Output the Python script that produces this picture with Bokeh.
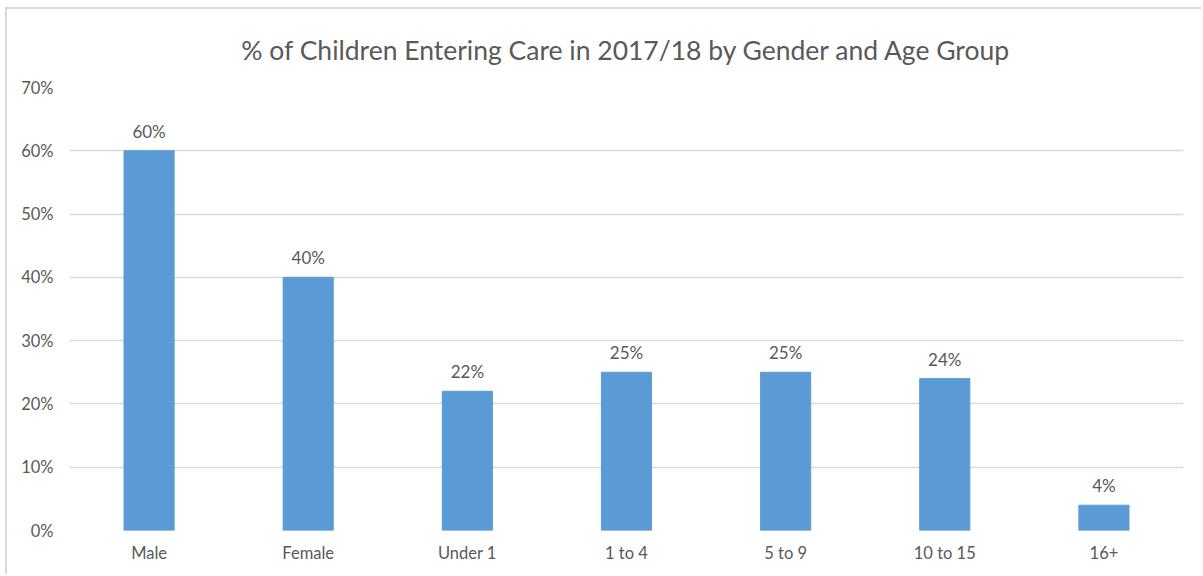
from bokeh.plotting import figure
from bokeh.models import ColumnDataSource, NumeralTickFormatter, FixedTicker, Title
from bokeh.core.properties import value
from bokeh.embed import file_html
from bokeh.resources import INLINE

categories = ["Male", "Female", "Under 1", "1 to 4", "5 to 9", "10 to 15", "16+"]
values = [0.60, 0.40, 0.22, 0.25, 0.25, 0.24, 0.04]
labels = ["60%", "40%", "22%", "25%", "25%", "24%", "4%"]
y_ticks = [0, 0.1, 0.2, 0.3, 0.4, 0.5, 0.6, 0.7]
title_text = "% of Children Entering Care in 2017/18 by Gender and Age Group"

FONT = "Lato"
GREY = "#595959"

src = ColumnDataSource(dict(cat=categories, val=values, lab=labels))

# outer chart border drawn as CSS on the plot element, offset by a small margin
p = figure(x_range=categories, y_range=(0, 0.7), width=1196, height=567,
           output_backend="svg", toolbar_location=None,
           min_border_left=62, min_border_right=20, min_border_top=78, min_border_bottom=46)
p.margin = (7, 0, 0, 5)
p.styles = {"border-top": "2px solid #d9d9d9", "border-left": "2px solid #d9d9d9"}
p.outline_line_color = None
p.background_fill_color = "white"
p.border_fill_color = "white"

p.vbar(x="cat", top="val", width=0.315, source=src, color="#5b9bd5")
p.text(x="cat", y="val", text="lab", source=src, text_align="center", text_baseline="bottom",
       y_offset=-9, text_font=value(FONT), text_font_size="17px", text_color=GREY)

p.xgrid.grid_line_color = None
p.ygrid.grid_line_color = "#d9d9d9"
p.ygrid.grid_line_width = 1.5
p.yaxis.ticker = FixedTicker(ticks=y_ticks)
p.yaxis.formatter = NumeralTickFormatter(format="0%")
for ax in (p.xaxis[0], p.yaxis[0]):
    ax.axis_line_color = None
    ax.major_tick_line_color = None
    ax.minor_tick_line_color = None
    ax.major_tick_in = 0
    ax.major_tick_out = 0
    ax.major_label_text_font = FONT
    ax.major_label_text_font_size = "16.5px"
    ax.major_label_text_color = GREY
p.yaxis.major_label_standoff = 16
p.xaxis.major_label_standoff = 12

t = Title(text=title_text, align="center", text_font=FONT, text_font_size="26.5px",
          text_color=GREY, text_font_style="normal", standoff=44)
p.add_layout(t, "above")

open("out.html", "w").write(file_html(p, INLINE))
